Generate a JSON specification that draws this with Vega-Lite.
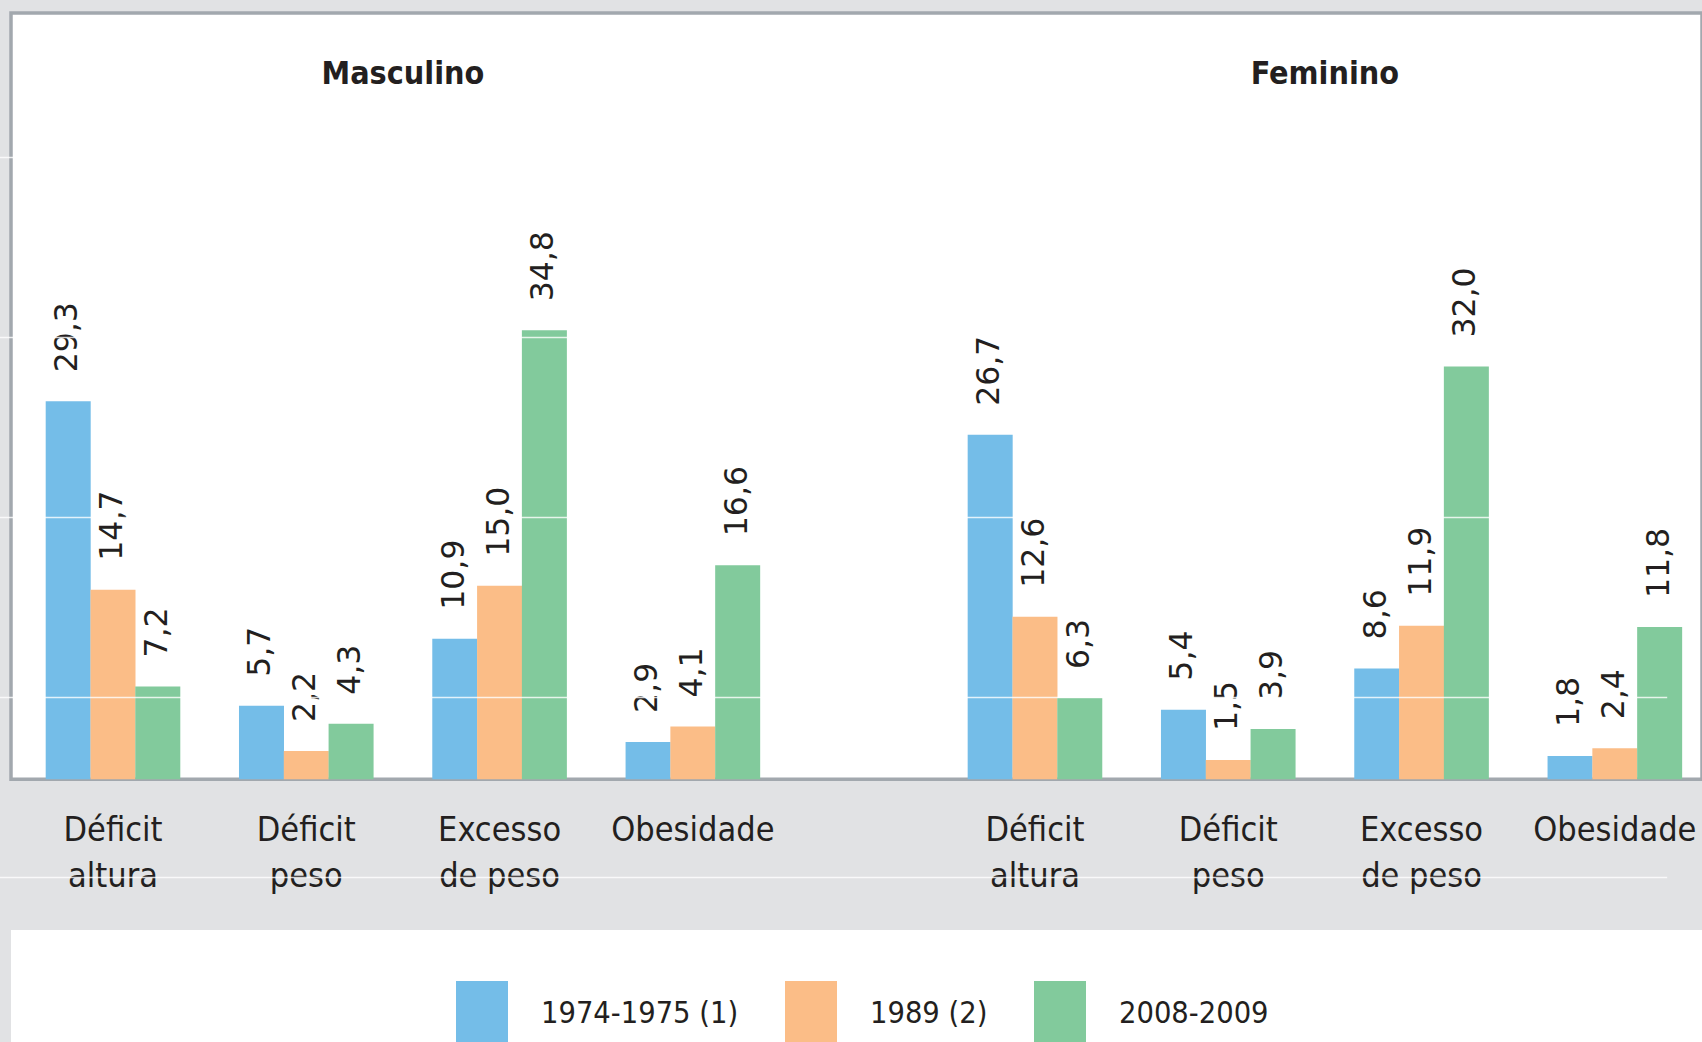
{
  "$schema": "https://vega.github.io/schema/vega-lite/v6.json",
  "width": 1691,
  "height": 1029,
  "autosize": {"type": "none"},
  "padding": {"left": 11, "top": 13, "right": 0, "bottom": 0},
  "background": "#e1e2e4",
  "config": {
    "view": {"fill": "white", "stroke": null},
    "locale": {"number": {"decimal": ",", "thousands": ".", "grouping": [3], "currency": ["", ""]}}
  },
  "datasets": {
    "prev": [
      {"sex": "Masculino", "indicator": "Déficit\naltura", "series": "1974-1975 (1)", "value": 29.3},
      {"sex": "Masculino", "indicator": "Déficit\naltura", "series": "1989 (2)", "value": 14.7},
      {"sex": "Masculino", "indicator": "Déficit\naltura", "series": "2008-2009", "value": 7.2},
      {"sex": "Masculino", "indicator": "Déficit\npeso", "series": "1974-1975 (1)", "value": 5.7},
      {"sex": "Masculino", "indicator": "Déficit\npeso", "series": "1989 (2)", "value": 2.2},
      {"sex": "Masculino", "indicator": "Déficit\npeso", "series": "2008-2009", "value": 4.3},
      {"sex": "Masculino", "indicator": "Excesso\nde peso", "series": "1974-1975 (1)", "value": 10.9},
      {"sex": "Masculino", "indicator": "Excesso\nde peso", "series": "1989 (2)", "value": 15.0},
      {"sex": "Masculino", "indicator": "Excesso\nde peso", "series": "2008-2009", "value": 34.8},
      {"sex": "Masculino", "indicator": "Obesidade", "series": "1974-1975 (1)", "value": 2.9},
      {"sex": "Masculino", "indicator": "Obesidade", "series": "1989 (2)", "value": 4.1},
      {"sex": "Masculino", "indicator": "Obesidade", "series": "2008-2009", "value": 16.6},
      {"sex": "Feminino", "indicator": "Déficit\naltura", "series": "1974-1975 (1)", "value": 26.7},
      {"sex": "Feminino", "indicator": "Déficit\naltura", "series": "1989 (2)", "value": 12.6},
      {"sex": "Feminino", "indicator": "Déficit\naltura", "series": "2008-2009", "value": 6.3},
      {"sex": "Feminino", "indicator": "Déficit\npeso", "series": "1974-1975 (1)", "value": 5.4},
      {"sex": "Feminino", "indicator": "Déficit\npeso", "series": "1989 (2)", "value": 1.5},
      {"sex": "Feminino", "indicator": "Déficit\npeso", "series": "2008-2009", "value": 3.9},
      {"sex": "Feminino", "indicator": "Excesso\nde peso", "series": "1974-1975 (1)", "value": 8.6},
      {"sex": "Feminino", "indicator": "Excesso\nde peso", "series": "1989 (2)", "value": 11.9},
      {"sex": "Feminino", "indicator": "Excesso\nde peso", "series": "2008-2009", "value": 32.0},
      {"sex": "Feminino", "indicator": "Obesidade", "series": "1974-1975 (1)", "value": 1.8},
      {"sex": "Feminino", "indicator": "Obesidade", "series": "1989 (2)", "value": 2.4},
      {"sex": "Feminino", "indicator": "Obesidade", "series": "2008-2009", "value": 11.8}
    ]
  },
  "data": {"name": "prev"},
  "resolve": {"scale": {"x": "independent", "xOffset": "independent"}},
  "layer": [
    {
      "data": {"values": [{}]},
      "mark": {"type": "rect", "color": "#e1e2e4"},
      "encoding": {
        "y": {"datum": 0, "type": "quantitative", "scale": {"domain": [-20.36, 59.4], "nice": false, "zero": false}, "axis": {"values": [48.2, 34.32, 20.35, 6.39, -7.58], "grid": true, "gridColor": "#ffffff", "gridOpacity": 0.8, "gridWidth": 1.5, "labels": false, "ticks": false, "domain": false, "title": null, "zindex": 2}},
        "y2": {"datum": -11.68}
      }
    },
    {
      "data": {"values": [{}]},
      "mark": {"type": "rect", "fill": "#ffffff", "stroke": "#a2a8ae", "strokeWidth": 3.5},
      "encoding": {
        "y": {"datum": 59.4, "type": "quantitative"},
        "y2": {"datum": 0}
      }
    },
    {
      "transform": [{"filter": {"field": "series", "equal": "1974-1975 (1)"}}],
      "encoding": {
        "x": {"field": "sex", "type": "nominal", "sort": null, "scale": {"type": "band", "domain": ["Masculino", "Feminino"], "range": [-39.45, 1655.7], "paddingInner": 0.1614, "paddingOuter": 0}, "axis": null},
        "xOffset": {"field": "indicator", "type": "nominal", "sort": null, "scale": {"domain": ["Déficit\naltura", "Déficit\npeso", "Excesso\nde peso", "Obesidade"], "paddingInner": 0, "paddingOuter": 0}},
        "y": {"field": "value", "type": "quantitative"}
      },
      "layer": [
        {
          "mark": {"type": "bar", "width": 45},
          "encoding": {
            "color": {"field": "series", "type": "nominal", "scale": {"domain": ["1974-1975 (1)", "1989 (2)", "2008-2009"], "range": ["#74bde8", "#fbbd87", "#82ca9c"]},
              "legend": {"orient": "none", "legendX": 438.5, "legendY": 968, "direction": "horizontal", "title": null, "symbolType": "M-0.8,-1H0.8V1H-0.8Z", "symbolSize": 4225, "symbolStrokeWidth": 0, "symbolOpacity": 1, "labelFont": "DejaVu Sans Condensed", "labelFontSize": 30.5, "labelColor": "#231f20", "labelOffset": 26.5, "columnPadding": 40, "padding": 0, "labelLimit": 400}}
          }
        },
        {
          "mark": {"type": "text", "angle": 270, "align": "left", "baseline": "middle", "dx": 29, "font": "DejaVu Sans", "fontSize": 31.5, "color": "#231f20"},
          "encoding": {"text": {"field": "value", "type": "quantitative", "format": ".1f"}}
        }
      ]
    },
    {
      "transform": [{"filter": {"field": "series", "equal": "1989 (2)"}}],
      "encoding": {
        "x": {"field": "sex", "type": "nominal", "sort": null, "scale": {"type": "band", "domain": ["Masculino", "Feminino"], "range": [5.35, 1700.5], "paddingInner": 0.1614, "paddingOuter": 0}, "axis": null},
        "xOffset": {"field": "indicator", "type": "nominal", "sort": null, "scale": {"domain": ["Déficit\naltura", "Déficit\npeso", "Excesso\nde peso", "Obesidade"], "paddingInner": 0, "paddingOuter": 0}},
        "y": {"field": "value", "type": "quantitative"}
      },
      "layer": [
        {
          "mark": {"type": "bar", "width": 45},
          "encoding": {
            "color": {"field": "series", "type": "nominal", "scale": {"domain": ["1974-1975 (1)", "1989 (2)", "2008-2009"], "range": ["#74bde8", "#fbbd87", "#82ca9c"]}}
          }
        },
        {
          "mark": {"type": "text", "angle": 270, "align": "left", "baseline": "middle", "dx": 29, "font": "DejaVu Sans", "fontSize": 31.5, "color": "#231f20"},
          "encoding": {"text": {"field": "value", "type": "quantitative", "format": ".1f"}}
        },
        {
          "mark": {"type": "text", "lineBreak": "\n", "lineHeight": 46, "baseline": "alphabetic", "align": "center", "font": "DejaVu Sans Condensed", "fontSize": 34, "color": "#231f20"},
          "encoding": {"y": {"datum": -4.79, "type": "quantitative"}, "text": {"field": "indicator", "type": "nominal"}}
        }
      ]
    },
    {
      "transform": [{"filter": {"field": "series", "equal": "2008-2009"}}],
      "encoding": {
        "x": {"field": "sex", "type": "nominal", "sort": null, "scale": {"type": "band", "domain": ["Masculino", "Feminino"], "range": [50.15, 1745.3], "paddingInner": 0.1614, "paddingOuter": 0}, "axis": null},
        "xOffset": {"field": "indicator", "type": "nominal", "sort": null, "scale": {"domain": ["Déficit\naltura", "Déficit\npeso", "Excesso\nde peso", "Obesidade"], "paddingInner": 0, "paddingOuter": 0}},
        "y": {"field": "value", "type": "quantitative"}
      },
      "layer": [
        {
          "mark": {"type": "bar", "width": 45},
          "encoding": {
            "color": {"field": "series", "type": "nominal", "scale": {"domain": ["1974-1975 (1)", "1989 (2)", "2008-2009"], "range": ["#74bde8", "#fbbd87", "#82ca9c"]}}
          }
        },
        {
          "mark": {"type": "text", "angle": 270, "align": "left", "baseline": "middle", "dx": 29, "font": "DejaVu Sans", "fontSize": 31.5, "color": "#231f20"},
          "encoding": {"text": {"field": "value", "type": "quantitative", "format": ".1f"}}
        }
      ]
    },
    {
      "data": {"values": [{"sex": "Masculino"}, {"sex": "Feminino"}]},
      "mark": {"type": "text", "baseline": "alphabetic", "align": "center", "font": "DejaVu Sans Condensed", "fontWeight": "bold", "fontSize": 32, "color": "#231f20"},
      "encoding": {
        "x": {"field": "sex", "type": "nominal", "sort": null, "scale": {"type": "band", "domain": ["Masculino", "Feminino"], "range": [5.35, 1700.5], "paddingInner": 0.1614, "paddingOuter": 0}, "axis": null},
        "y": {"datum": 53.93, "type": "quantitative"},
        "text": {"field": "sex", "type": "nominal"}
      }
    }
  ]
}
